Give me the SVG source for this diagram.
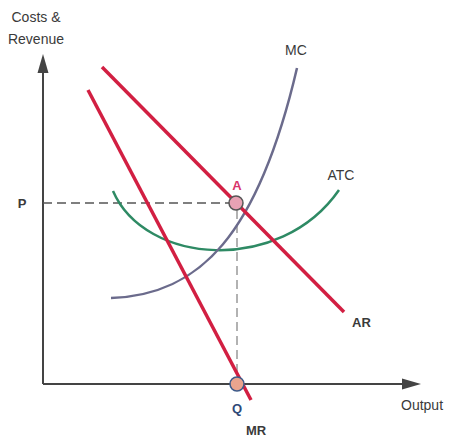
<svg xmlns="http://www.w3.org/2000/svg" width="456" height="441" viewBox="0 0 456 441">
<style>
text{font-family:"Liberation Sans",Arial,sans-serif;fill:#3a3a3a}
.lbl{font-size:14px}
.bold{font-size:13px;font-weight:bold}
.red{stroke:#d21f42;stroke-width:3.5;fill:none;stroke-linecap:butt}
.axis{stroke:#444;stroke-width:2;fill:none}
.dash{stroke-dasharray:9 5;stroke-width:1.5;fill:none}
</style>
<defs>
<marker id="ah" viewBox="0 0 10 10" refX="9" refY="5" markerWidth="9" markerHeight="9" markerUnits="userSpaceOnUse" orient="auto">
<path d="M0,0 L10,5 L0,10 Z" fill="#444"/>
</marker>
</defs>
<rect width="456" height="441" fill="#ffffff"/>
<g id="axes">
<path class="axis" d="M43,384 L43,72"/>
<path d="M43,54 L37.5,73 L48.5,73 Z" fill="#444"/>
<path class="axis" d="M43,384 L404,384"/>
<path d="M421,384 L402,378.5 L402,389.5 Z" fill="#444"/>
<text class="lbl" x="36" y="22" text-anchor="middle">Costs &amp;</text>
<text class="lbl" x="36" y="44" text-anchor="middle">Revenue</text>
<text class="lbl" x="401" y="410">Output</text>
</g>
<g id="connectors">
<path class="dash" stroke="#555" d="M43,203 L229,203"/>
<path class="dash" stroke="#999" d="M237,210 L237,376"/>
</g>
<g id="ATC">
<path d="M113,191 C145,265 280,275 339,190" stroke="#2e8a64" stroke-width="2.5" fill="none"/>
<text class="lbl" x="341" y="180" text-anchor="middle">ATC</text>
</g>
<g id="MC">
<path d="M111,298 C200,295 258,235 297,68" stroke="#6b6b8c" stroke-width="2.5" fill="none"/>
<text class="lbl" x="296" y="55" text-anchor="middle">MC</text>
</g>
<g id="AR">
<path class="red" d="M102,67 L344,312"/>
<text class="bold" x="352" y="327">AR</text>
</g>
<g id="MR">
<path class="red" d="M88,90 L251,400"/>
<text class="bold" x="256" y="435" text-anchor="middle">MR</text>
</g>
<g id="A">
<circle cx="236" cy="203" r="7" fill="#e8a2b4" stroke="#555" stroke-width="1.5"/>
<text class="bold" x="237" y="190" text-anchor="middle" style="fill:#d8356a">A</text>
</g>
<g id="Q">
<circle cx="237" cy="384" r="7" fill="#eaa48e" stroke="#3d5a8a" stroke-width="1.5"/>
<text class="bold" x="237" y="413" text-anchor="middle" style="fill:#2f4a78">Q</text>
</g>
<g id="P">
<text class="bold" x="22" y="208" text-anchor="middle">P</text>
</g>
</svg>
